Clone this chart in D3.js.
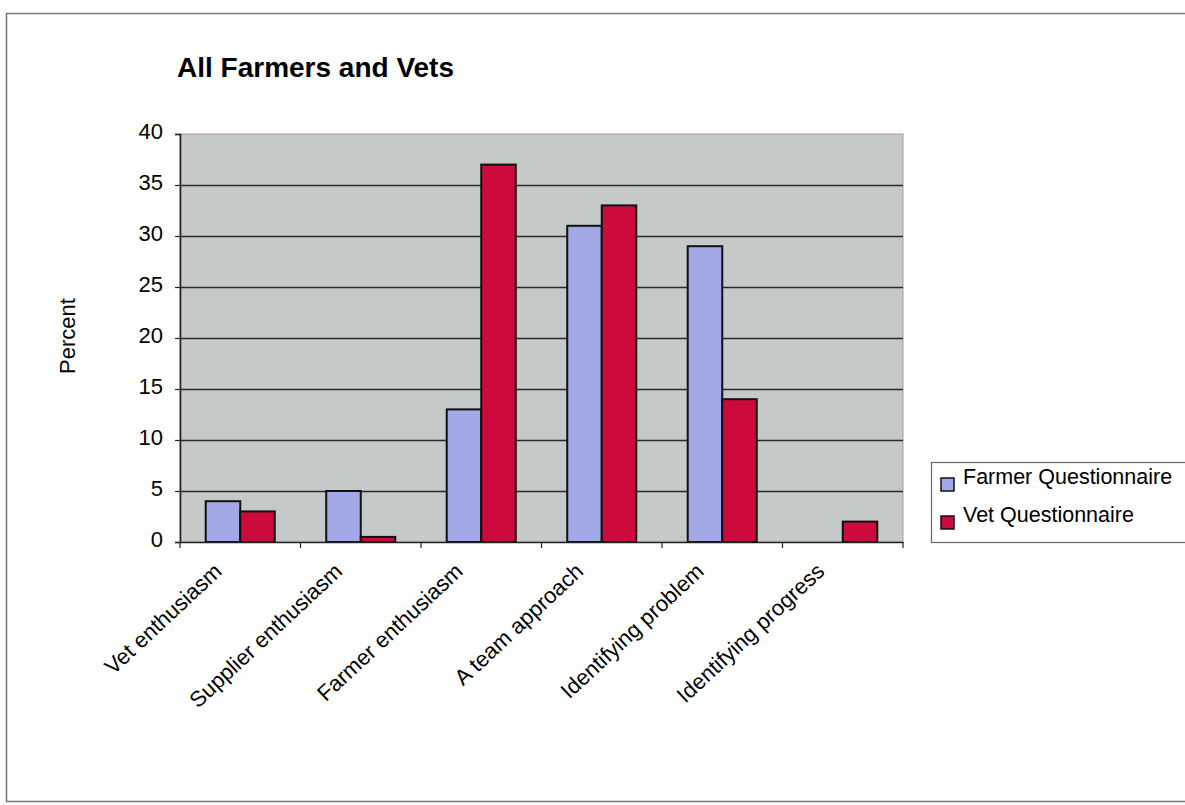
<!DOCTYPE html>
<html>
<head>
<meta charset="utf-8">
<script src="https://cdn.jsdelivr.net/npm/d3@7"></script>
<style>
  html, body { margin: 0; padding: 0; background: #fff; }
  svg { display: block; font-family: Arial, "Liberation Sans", Helvetica, sans-serif; }
</style>
</head>
<body>
<svg id="chart" width="1185" height="805"></svg>
<script>
// Survey categories and response percentages
const categories = ["Vet enthusiasm", "Supplier enthusiasm", "Farmer enthusiasm",
                    "A team approach", "Identifying problem", "Identifying progress"];
const seriesNames = ["Farmer Questionnaire", "Vet Questionnaire"];
const farmerValues = [4, 5, 13, 31, 29, 0];
const vetValues = [3, 0.5, 37, 33, 14, 2];
const yTicks = [0, 5, 10, 15, 20, 25, 30, 35, 40];
const colors = ["#a3a8e6", "#cc0a3c"];

const svg = d3.select("#chart");
const plot = { left: 180, right: 903, top: 134, bottom: 542 };

// outer frame
svg.append("path")
  .attr("d", `M1185,13.5 H6.5 V801.5 H1185`)
  .attr("fill", "none").attr("stroke", "#777").attr("stroke-width", 1.5);

const x = d3.scaleBand().domain(categories).range([plot.left, plot.right]).paddingInner(0).paddingOuter(0);
const x1 = d3.scaleBand().domain(seriesNames).range([0, x.bandwidth()]).paddingInner(0).paddingOuter(0.745);
const y = d3.scaleLinear().domain([0, 40]).range([plot.bottom, plot.top]);

// plot background
svg.append("rect")
  .attr("x", plot.left).attr("y", plot.top)
  .attr("width", plot.right - plot.left).attr("height", plot.bottom - plot.top)
  .attr("fill", "#c5c9c8").attr("stroke", "#a0a0a0").attr("stroke-width", 1);

// horizontal gridlines
svg.append("g").selectAll("line").data(yTicks.filter(d => d > 0 && d < 40)).join("line")
  .attr("x1", plot.left).attr("x2", plot.right)
  .attr("y1", d => y(d) + 0.5).attr("y2", d => y(d) + 0.5)
  .attr("stroke", "#2a2a2a").attr("stroke-width", 1.3);

// y axis
const yAxis = svg.append("g").attr("transform", `translate(${plot.left},0)`)
  .call(d3.axisLeft(y).tickValues(yTicks).tickSize(5).tickPadding(12));
yAxis.select(".domain").attr("stroke", "#222").attr("stroke-width", 1.6);
yAxis.selectAll(".tick line").attr("stroke", "#222").attr("stroke-width", 1.2);
yAxis.selectAll("text").attr("font-size", 22).attr("fill", "#000").attr("dy", "0.2em")
  .attr("font-family", "Arial, 'Liberation Sans', sans-serif");

// bars
const groups = svg.append("g").selectAll("g").data(categories).join("g")
  .attr("transform", d => `translate(${x(d)},0)`);
groups.selectAll("rect")
  .data((d, i) => [farmerValues[i], vetValues[i]].map((v, k) => ({ v, k })))
  .join("rect")
  .filter(d => d.v > 0)
  .attr("x", d => x1(seriesNames[d.k]))
  .attr("y", d => y(d.v))
  .attr("width", x1.bandwidth())
  .attr("height", d => y(0) - y(d.v))
  .attr("fill", d => colors[d.k])
  .attr("stroke", "#111").attr("stroke-width", 2);

// x axis
const xAxis = svg.append("g").attr("transform", `translate(0,${plot.bottom})`)
  .call(d3.axisBottom(x).tickSize(0).tickFormat(""));
xAxis.select(".domain").attr("stroke", "#222").attr("stroke-width", 1.6);
// tick marks between categories
const boundaries = categories.map(c => x(c)).concat([plot.right]);
svg.append("g").selectAll("line").data(boundaries).join("line")
  .attr("x1", d => d).attr("x2", d => d)
  .attr("y1", plot.bottom).attr("y2", plot.bottom + 6)
  .attr("stroke", "#222").attr("stroke-width", 1.2);

// rotated category labels
svg.append("g").selectAll("text").data(categories).join("text")
  .attr("transform", d => `translate(${x(d) + x.bandwidth() / 2 - 17},${plot.bottom + 31}) rotate(-43)`)
  .attr("text-anchor", "end")
  .attr("font-size", 22)
  .attr("fill", "#000")
  .text(d => d);

// y axis title
svg.append("text")
  .attr("transform", `translate(75,336) rotate(-90)`)
  .attr("text-anchor", "middle")
  .attr("font-size", 22).attr("fill", "#000")
  .text("Percent");

// chart title
svg.append("text")
  .attr("x", 177).attr("y", 77)
  .attr("font-size", 28).attr("font-weight", "bold").attr("fill", "#000")
  .text("All Farmers and Vets");

// legend
const legend = svg.append("g");
legend.append("rect")
  .attr("x", 931.5).attr("y", 462.5).attr("width", 270).attr("height", 80)
  .attr("fill", "#fff").attr("stroke", "#666").attr("stroke-width", 1.2);
const items = legend.selectAll("g").data(seriesNames).join("g")
  .attr("transform", (d, i) => `translate(941,${478 + i * 38})`);
items.append("rect")
  .attr("x", 0).attr("y", 0).attr("width", 13).attr("height", 13)
  .attr("fill", (d, i) => colors[i]).attr("stroke", "#111").attr("stroke-width", 1.5);
items.append("text")
  .attr("x", 22).attr("y", 6)
  .attr("font-size", 21.5).attr("fill", "#000")
  .text(d => d);
</script>
</body>
</html>
